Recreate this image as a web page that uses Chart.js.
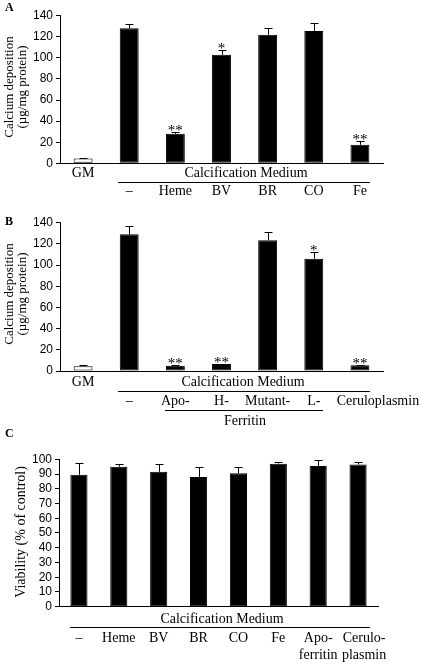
<!DOCTYPE html>
<html lang="en">
<head>
<meta charset="UTF-8">
<title>Calcium deposition</title>
<script src="https://cdn.jsdelivr.net/npm/chart.js"></script>
<style>
    body { margin: 0; background: #fff; }
    .wrap { position: relative; width: 422px; height: 664px; }
    .wrap canvas { position: absolute; left: 0; }
</style>
</head>
<body>
<div class="wrap">
    <canvas id="chartA" width="422" height="215" style="top:0"></canvas>
    <canvas id="chartB" width="422" height="225" style="top:210px"></canvas>
    <canvas id="chartC" width="422" height="239" style="top:425px"></canvas>
</div>
<script>
// panel A - calcium deposition, HO-1 products
const catsA = ['GM', '–', 'Heme', 'BV', 'BR', 'CO', 'Fe'];
const valsA = [4.5, 128, 28, 103, 122, 125.5, 17.5];
const errsA = [0.5, 4, 1.5, 4, 6, 8, 4];
const starsA = ['', '', '**', '*', '', '', '**'];

// panel B - ferritin / ceruloplasmin
const catsB = ['GM', '–', 'Apo-', 'H-', 'Mutant-', 'L-', 'Ceruloplasmin'];
const valsB = [4.5, 129, 5, 6.5, 123.5, 106, 5.5];
const errsB = [1, 8, 0.5, 0.5, 8, 6, 0.5];
const starsB = ['', '', '**', '**', '', '*', '**'];

// panel C - viability
const catsC = ['–', 'Heme', 'BV', 'BR', 'CO', 'Fe', ['Apo-', 'ferritin'], ['Cerulo-', 'plasmin']];
const valsC = [89.5, 95, 91.5, 88, 90.5, 97, 95.5, 96.5];
const errsC = [8, 2, 5, 6.5, 4.5, 1, 4, 2];

const yTicksA = [0, 20, 40, 60, 80, 100, 120, 140];
const yTicksC = [0, 10, 20, 30, 40, 50, 60, 70, 80, 90, 100];

const SERIF = '"Liberation Serif", "Times New Roman", serif';
Chart.defaults.font.family = '"Liberation Sans", Arial, sans-serif';
Chart.defaults.font.size = 12;
Chart.defaults.color = '#000';

// draws error bars, stars, category labels, brackets, titles
function extras(p) {
    return {
        id: 'extras',
        afterDatasetsDraw(chart) {
            const ctx = chart.ctx;
            const xs = chart.scales.x, ys = chart.scales.y;
            const bars = chart.getDatasetMeta(0).data;
            ctx.save();
            ctx.strokeStyle = '#000';
            ctx.fillStyle = '#000';
            ctx.lineWidth = 1;

            bars.forEach((b, i) => {
                const top = Math.round(ys.getPixelForValue(p.vals[i] + p.errs[i])) + 0.5;
                const cx = Math.round(b.x) + 0.5;
                ctx.beginPath();
                ctx.moveTo(cx, b.y);
                ctx.lineTo(cx, top);
                ctx.moveTo(cx - 4, top);
                ctx.lineTo(cx + 4, top);
                ctx.stroke();
                if (p.stars && p.stars[i]) {
                    ctx.font = '15px ' + SERIF;
                    ctx.textAlign = 'center';
                    ctx.textBaseline = 'alphabetic';
                    ctx.fillText(p.stars[i], b.x, top + 2);
                }
            });

            // category labels
            ctx.font = '14px ' + SERIF;
            ctx.textAlign = 'center';
            ctx.textBaseline = 'middle';
            p.cats.forEach((c, i) => {
                const lines = Array.isArray(c) ? c : [c];
                const ly = c === 'GM' ? p.gmY : p.labelY;
                const dx = (p.shift && p.shift[i]) || 0;
                lines.forEach((t, k) => ctx.fillText(t, xs.getPixelForValue(i) + dx, ly + k * 17));
            });

            // group captions with rule lines
            p.groups.forEach(g => {
                ctx.fillText(g.text, g.x, g.y);
                ctx.beginPath();
                ctx.moveTo(g.x0, g.lineY + 0.5);
                ctx.lineTo(g.x1, g.lineY + 0.5);
                ctx.stroke();
            });

            // axis title
            ctx.save();
            ctx.translate(p.titleX[0], p.titleY);
            ctx.rotate(-Math.PI / 2);
            ctx.font = p.titleFont + ' ' + SERIF;
            p.title.forEach((t, k) => ctx.fillText(t, 0, p.titleX[k] - p.titleX[0]));
            ctx.restore();

            // panel letter
            ctx.font = 'bold 12px ' + SERIF;
            ctx.textAlign = 'left';
            ctx.textBaseline = 'alphabetic';
            ctx.fillText(p.letter, 5, p.letterY);
            ctx.restore();
        }
    };
}

function makeChart(id, cats, vals, ticks, max, barPct, pad, yWidth, p) {
    const colors = cats.map(c => c === 'GM' ? '#fff' : '#000');
    return new Chart(document.getElementById(id), {
        type: 'bar',
        data: {
            labels: cats.map(c => Array.isArray(c) ? c.join(' ') : c),
            datasets: [{
                data: vals,
                backgroundColor: colors,
                borderColor: '#000',
                borderWidth: 1,
                borderSkipped: false,
                barPercentage: barPct,
                categoryPercentage: 1
            }]
        },
        options: {
            responsive: false,
            animation: false,
            layout: { padding: pad },
            plugins: { legend: { display: false }, tooltip: { enabled: false } },
            scales: {
                x: {
                    grid: { display: false },
                    border: { display: true, color: '#000', width: 1 },
                    ticks: { display: false },
                    afterFit: s => { s.height = 0; }
                },
                y: {
                    min: 0,
                    max: max,
                    afterBuildTicks: s => { s.ticks = ticks.map(v => ({ value: v })); },
                    grid: { display: true, drawOnChartArea: false, drawTicks: true, tickLength: 4, color: '#000' },
                    border: { display: true, color: '#000', width: 1 },
                    ticks: { padding: 3, color: '#000', autoSkip: false, font: { size: 12 } },
                    afterFit: s => { s.width = yWidth; }
                }
            }
        },
        plugins: [extras(p)]
    });
}

makeChart('chartA', catsA, valsA, yTicksA, 140, 0.41,
    { top: 15.7, bottom: 51.7, left: 0, right: 39 }, 60, {
        cats: catsA, vals: valsA, errs: errsA, stars: starsA,
        gmY: 173, labelY: 191,
        groups: [{ text: 'Calcification Medium', x: 246, y: 173, lineY: 182, x0: 118, x1: 370 }],
        title: ['Calcium deposition', '(µg/mg protein)'], titleX: [10, 23], titleY: 87, titleFont: '13px',
        letter: 'A', letterY: 11
    });

makeChart('chartB', catsB, valsB, yTicksA, 140, 0.41,
    { top: 12.7, bottom: 64, left: 0, right: 39 }, 60, {
        cats: catsB, vals: valsB, errs: errsB, stars: starsB,
        gmY: 172, labelY: 191, shift: [0, 0, 0, 0, 0, 0, 18],
        groups: [
            { text: 'Calcification Medium', x: 243, y: 172, lineY: 181, x0: 118, x1: 370 },
            { text: 'Ferritin', x: 245, y: 211, lineY: 200, x0: 165, x1: 323 }
        ],
        title: ['Calcium deposition', '(µg/mg protein)'], titleX: [10, 23], titleY: 84, titleFont: '13px',
        letter: 'B', letterY: 15
    });

makeChart('chartC', catsC, valsC, yTicksC, 100, 0.43,
    { top: 34.3, bottom: 57.3, left: 0, right: 44 }, 59, {
        cats: catsC, vals: valsC, errs: errsC,
        gmY: 0, labelY: 213, shift: [0, 0, 0, 0, 0, 0, 0, 6],
        groups: [{ text: 'Calcification Medium', x: 222, y: 194, lineY: 202, x0: 70, x1: 370 }],
        title: ['Viability (% of control)'], titleX: [21], titleY: 107, titleFont: '14px',
        letter: 'C', letterY: 12
    });
</script>
</body>
</html>
